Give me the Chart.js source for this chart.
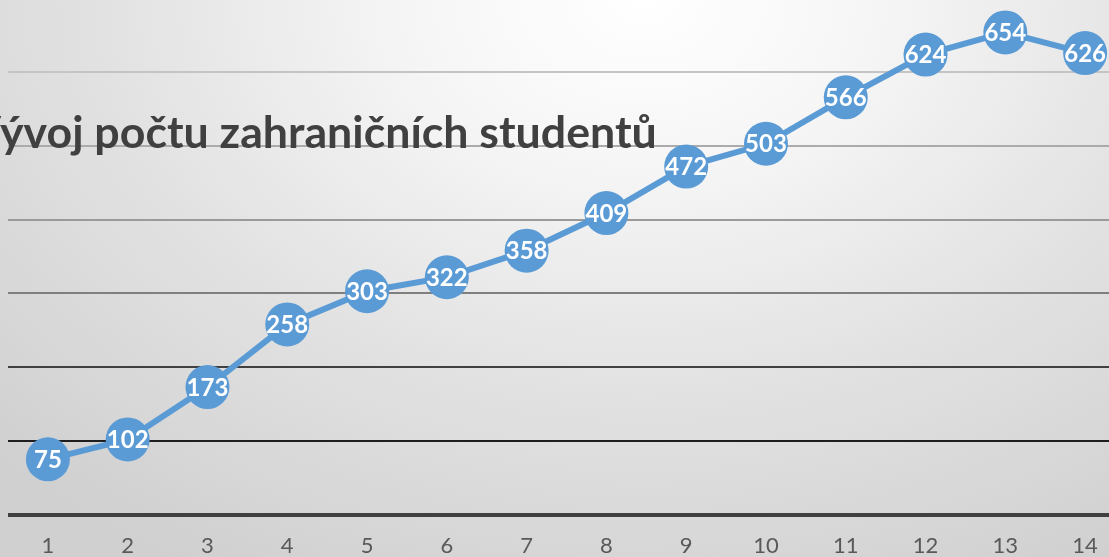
<!DOCTYPE html>
<html>
<head>
<meta charset="utf-8">
<script src="https://cdn.jsdelivr.net/npm/chart.js@4.4.1/dist/chart.umd.min.js"></script>
<style>
  html, body { margin:0; padding:0; width:1109px; height:557px; overflow:hidden; }
  body { background: radial-gradient(ellipse 900px 650px at 58% 0%, #ffffff 0%, #f6f6f6 25%, #e2e2e2 60%, #d0d0d0 100%); position:relative; }
  #wrap { position:absolute; left:0; top:0; width:1126px; height:577px; }
  #title { position:absolute; top:0; left:0; white-space:nowrap; font-family: Lato, "Open Sans", sans-serif; font-weight:700; color:#404040; z-index:2; line-height:1; }
</style>
</head>
<body>
<div id="wrap"><canvas id="c" width="1126" height="577"></canvas></div>
<div id="title"><span id="tv">V</span><span id="trest">ývoj počtu zahraničních studentů</span></div>
<script>
const categories = ["1","2","3","4","5","6","7","8","9","10","11","12","13","14"];
const students = [75, 102, 173, 258, 303, 322, 358, 409, 472, 503, 566, 624, 654, 626];
const yTickValues = [0, 100, 200, 300, 400, 500, 600];
const gridColors = {0:"#404040",100:"#1e1e1e",200:"#404040",300:"#7f7f7f",400:"#9a9a9a",500:"#ababab",600:"#c4c4c4"};

(function(){
  const t = document.getElementById('title');
  const rest = document.getElementById('trest');
  const v = document.getElementById('tv');
  t.style.fontSize = '40px';
  const w = rest.getBoundingClientRect().width;
  const fs = 40 * 657 / w;
  t.style.fontSize = fs.toFixed(2) + 'px';
  const vw = v.getBoundingClientRect().width;
  t.style.left = (-vw) + 'px';
  t.style.top = (144 - fs * 0.78) + 'px';
})();

const labelPlugin = {
  id: 'pointLabels',
  afterDatasetsDraw(chart) {
    const ctx = chart.ctx;
    const meta = chart.getDatasetMeta(0);
    ctx.save();
    ctx.fillStyle = '#ffffff';
    ctx.font = 'bold 24px Lato, "Open Sans", sans-serif';
    ctx.textAlign = 'center';
    ctx.textBaseline = 'middle';
    meta.data.forEach((pt, i) => {
      ctx.fillText(String(chart.data.datasets[0].data[i]), pt.x, pt.y + 1);
    });
    ctx.restore();
  }
};

new Chart(document.getElementById('c'), {
  type: 'line',
  data: {
    labels: categories,
    datasets: [{
      data: students,
      borderColor: '#5B9BD5',
      backgroundColor: '#5B9BD5',
      borderWidth: 6,
      pointRadius: 22,
      pointHoverRadius: 22,
      pointBorderWidth: 0,
      pointBackgroundColor: '#5B9BD5',
      tension: 0,
      clip: false
    }]
  },
  options: {
    responsive: false,
    animation: false,
    events: [],
    layout: { autoPadding: false, padding: { left: 8, right: 1, top: 0, bottom: 0 } },
    plugins: { legend: { display: false }, title: { display: false }, tooltip: { enabled: false } },
    scales: {
      x: {
        offset: true,
        grid: { display: false, drawTicks: false },
        border: { display: false },
        ticks: { color: '#595959', font: { family: 'Lato, "Open Sans", sans-serif', size: 22 }, padding: 18, maxRotation: 0 }
      },
      y: {
        min: 0, max: 698,
        afterBuildTicks(scale) { scale.ticks = yTickValues.map(v => ({ value: v })); },
        ticks: { display: false },
        border: { display: false },
        grid: {
          drawTicks: false,
          color: (c) => gridColors[c.tick ? c.tick.value : 0] || '#c4c4c4',
          lineWidth: (c) => (c.tick && c.tick.value === 0) ? 4 : 2
        }
      }
    }
  },
  plugins: [labelPlugin]
});
</script>
</body>
</html>
